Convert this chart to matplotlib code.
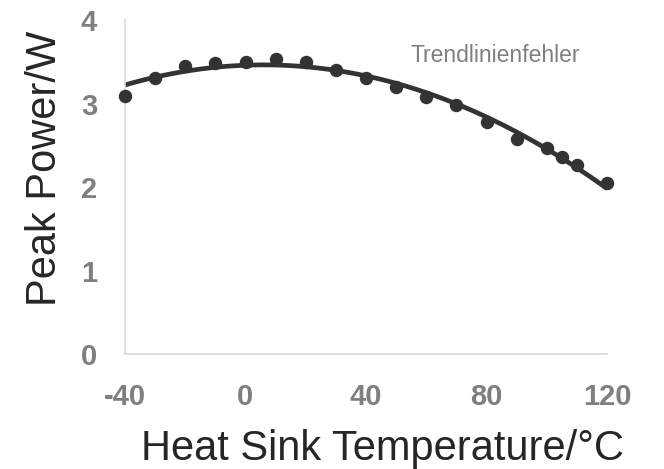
import numpy as np
import matplotlib
matplotlib.use("Agg")
import matplotlib.pyplot as plt

plt.rcParams['font.family'] = ['Liberation Sans', 'DejaVu Sans']
plt.rcParams['axes.unicode_minus'] = False

temps = [-40, -30, -20, -10, 0, 10, 20, 30, 40, 50, 60, 70, 80, 90, 100, 105, 110, 120]
power = [3.09, 3.31, 3.45, 3.49, 3.50, 3.53, 3.50, 3.40, 3.30, 3.20, 3.08, 2.98, 2.78, 2.57, 2.47, 2.36, 2.26, 2.05]
x_ticks = [-40, 0, 40, 80, 120]
y_ticks = [0, 1, 2, 3, 4]
x_label = "Heat Sink Temperature/°C"
y_label = "Peak Power/W"
note = "Trendlinienfehler"

W, H = 664, 469
fig = plt.figure(figsize=(W / 100, H / 100), dpi=100)
ax = fig.add_axes([125 / W, 1 - 354 / H, (607 - 125) / W, (354 - 20) / H])

dark = '#333333'
ax.scatter(temps, power, s=75, color=dark, zorder=3, clip_on=False)

coef = np.polyfit(temps, power, 2)
xs = np.linspace(min(temps), max(temps), 200)
ax.plot(xs, np.polyval(coef, xs), color=dark, lw=3.4, solid_capstyle='butt', zorder=2, clip_on=False)

ax.set_xlim(-40, 120)
ax.set_ylim(0, 4)
ax.set_xticks(x_ticks)
ax.set_yticks(y_ticks)
for s in ['top', 'right']:
    ax.spines[s].set_visible(False)
for s in ['left', 'bottom']:
    ax.spines[s].set_color('#d9d9d9')
    ax.spines[s].set_linewidth(1.2)
ax.tick_params(axis='both', length=0, labelsize=21, labelcolor='#7f7f7f')
ax.tick_params(axis='y', pad=20)
ax.tick_params(axis='x', pad=21)
for lab in ax.get_xticklabels() + ax.get_yticklabels():
    lab.set_fontweight('bold')

fig.text(383 / W, 1 - 460 / H, x_label, ha='center', va='baseline', fontsize=30, color='#262626')
fig.text(45 / W, 1 - 168 / H, y_label, ha='center', va='center', rotation=90, fontsize=30, color='#262626')
fig.text(495 / W, 1 - 62 / H, note, ha='center', va='baseline', fontsize=16.5, color='#7f7f7f')

fig.savefig("out.png", dpi=100)
